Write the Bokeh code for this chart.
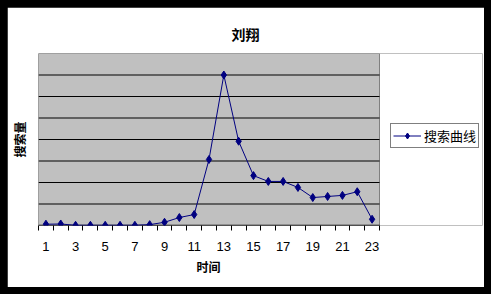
from bokeh.plotting import figure
from bokeh.layouts import column
from bokeh.models import FixedTicker, Legend, LegendItem, Range1d, Title
from bokeh.embed import file_html
from bokeh.resources import INLINE

# data
hours = list(range(1, 24))
search_volume = [60, 70, 10, 10, 10, 10, 10, 40, 150, 370, 510, 3070, 7000,
                 3920, 2320, 2050, 2050, 1770, 1300, 1350, 1400, 1570, 290]
tick_labels = [str(h) for h in range(1, 24, 2)]
grid_values = [1000, 2000, 3000, 4000, 5000, 6000, 7000]
y_max = 8000
title_text = "刘翔"
x_label = "时间"
y_label = "搜索量"
series_name = "搜索曲线"

# layout sizes (pixels)
FIG_W, FIG_H = 477, 280
LEFT, RIGHT, TOP, BOTTOM = 31, 2, 46, 62
PLOT_W = 341                      # width of the grey plot area
frame_w = FIG_W - LEFT - RIGHT    # frame also holds the legend
x_lo = 0.5
x_hi_plot = x_lo + len(hours)
x_hi = x_lo + len(hours) * frame_w / PLOT_W

p = figure(width=FIG_W, height=FIG_H, output_backend="svg", toolbar_location=None,
           x_range=Range1d(x_lo, x_hi), y_range=Range1d(0, y_max),
           min_border_left=LEFT, min_border_right=RIGHT, min_border_top=TOP,
           min_border_bottom=BOTTOM)

p.background_fill_color = "white"
p.border_fill_color = "white"
p.outline_line_color = None

# title (left-aligned with an offset so it sits over the chart centre)
p.title.text = title_text
p.title.align = "left"
p.title.offset = 193
p.title.standoff = 19
p.title.text_font = "Noto Sans CJK SC"
p.title.text_font_size = "14px"
p.title.text_font_style = "bold"
p.title.text_color = "black"

# grey plot area, gridlines and axis line
p.xgrid.visible = False
p.ygrid.visible = False
p.quad(left=[x_lo], right=[x_hi_plot], bottom=[0], top=[y_max],
       fill_color="#C0C0C0", line_color="#808080", line_width=1)
p.segment(x0=[x_lo] * len(grid_values), x1=[x_hi_plot] * len(grid_values),
          y0=grid_values, y1=grid_values, line_color="black", line_width=1)
p.segment(x0=[x_lo], x1=[x_hi_plot], y0=[0], y1=[0],
          line_color="black", line_width=1.5)

# x axis
xa = p.xaxis[0]
xa.ticker = FixedTicker(ticks=list(range(1, 24, 2)),
                        minor_ticks=[h + 0.5 for h in range(0, 24)])
xa.major_label_overrides = {h: lab for h, lab in zip(range(1, 24, 2), tick_labels)}
xa.major_tick_out = 0
xa.major_tick_in = 0
xa.minor_tick_out = 5
xa.minor_tick_in = 0
xa.minor_tick_line_color = "black"
xa.axis_line_color = None
xa.major_label_text_font = "Liberation Sans"
xa.major_label_text_font_size = "13px"
xa.major_label_text_color = "black"
xa.major_label_standoff = 11

# x axis label as a title below the axis, centred under the grey area
xt = Title(text=x_label, align="left", offset=158, standoff=4,
           text_font="Noto Sans CJK SC", text_font_size="12px",
           text_font_style="bold", text_color="black")
p.add_layout(xt, "below")

# y axis (tick labels made invisible, no tick marks)
ya = p.yaxis[0]
ya.ticker = FixedTicker(ticks=[0, 8000])
ya.major_label_text_font_size = "1px"
ya.major_label_text_alpha = 0
ya.axis_line_color = None
ya.major_tick_line_color = None
ya.minor_tick_line_color = None
ya.major_label_standoff = 0
ya.axis_label = y_label
ya.axis_label_text_font = "Noto Sans CJK SC"
ya.axis_label_text_font_size = "12px"
ya.axis_label_text_font_style = "bold"
ya.axis_label_text_color = "black"
ya.axis_label_standoff = 5

# series
ln = p.line(hours, search_volume, line_color="#000080", line_width=1)
mk = p.scatter(hours, search_volume, marker="diamond", size=8,
               fill_color="#000080", line_color="#000080")

# legend in the white part of the frame, right of the grey area
legend = Legend(items=[LegendItem(label=series_name, renderers=[ln, mk])],
                location=(352, 77))
legend.border_line_color = "black"
legend.border_line_width = 1
legend.background_fill_color = "white"
legend.background_fill_alpha = 1
legend.padding = 2
legend.margin = 0
legend.spacing = 0
legend.glyph_width = 28
legend.glyph_height = 15
legend.label_standoff = 3
legend.label_height = 15
legend.label_text_font = "Noto Sans CJK SC"
legend.label_text_font_size = "13px"
legend.label_text_color = "black"
p.add_layout(legend)

layout = column(p, styles={"background-color": "black", "padding": "7px"})

open("out.html", "w").write(file_html(layout, INLINE))
